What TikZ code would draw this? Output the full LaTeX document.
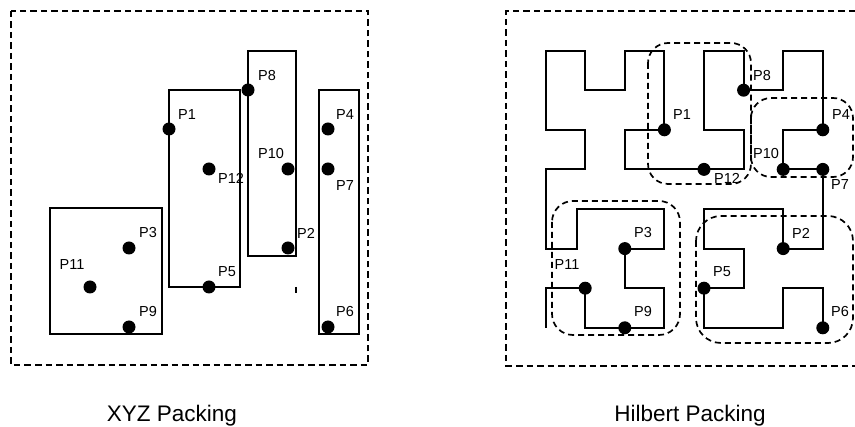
\documentclass[tikz,border=0pt]{standalone}
\usepackage{fontspec}
\setmainfont{Liberation Sans}
\begin{document}
\begin{tikzpicture}[x=1pt,y=-1pt,
  frame/.style={dashed,line width=1.8pt,dash pattern=on 6.5pt off 4pt},
  cluster/.style={dashed,line width=1.7pt,dash pattern=on 6pt off 4pt},
  solid box/.style={draw,line width=1.9pt},
  curve/.style={line width=1.9pt,line join=miter},
  dot/.style={circle,fill=black,inner sep=0pt,minimum size=13pt},
  lab/.style={font=\fontsize{14.5}{14.5}\selectfont,inner sep=0pt},
  captext/.style={font=\fontsize{22.5}{22.5}\selectfont,inner sep=0pt,anchor=base}]
\useasboundingbox (0,0) rectangle (855,427);
% ---------------- left panel: XYZ packing ----------------
\draw[frame] (11,11) rectangle (368,365);
\draw[solid box] (169,90) rectangle (240,287);
\draw[solid box] (248,51) rectangle (296,256);
\draw[solid box] (319,90) rectangle (359,334);
\draw[solid box] (50,208) rectangle (162,334);
\draw[line width=1.7pt] (296,287) -- (296,293);
\node[dot] (lp1) at (169,129) {};
\node[dot] (lp8) at (248,90) {};
\node[dot] (lp4) at (328,129) {};
\node[dot] (lp10) at (288,169) {};
\node[dot] (lp12) at (209,169) {};
\node[dot] (lp7) at (328,169) {};
\node[dot] (lp3) at (129,248) {};
\node[dot] (lp2) at (288,248) {};
\node[dot] (lp11) at (90,287) {};
\node[dot] (lp5) at (209,287) {};
\node[dot] (lp9) at (129,327) {};
\node[dot] (lp6) at (328,327) {};
\node[lab] (ll1) at (187,115) {P1};
\node[lab] (ll8) at (267,76) {P8};
\node[lab] (ll4) at (345,115) {P4};
\node[lab] (ll10) at (271,154) {P10};
\node[lab] (ll12) at (231,178) {P12};
\node[lab] (ll7) at (345,186) {P7};
\node[lab] (ll3) at (148,233) {P3};
\node[lab] (ll2) at (306,233) {P2};
\node[lab] (ll11) at (72,265) {P11};
\node[lab] (ll5) at (227,272) {P5};
\node[lab] (ll9) at (148,312) {P9};
\node[lab] (ll6) at (345,312) {P6};
\node[captext] (capl) at (172,422) {XYZ Packing};
% ---------------- right panel: Hilbert packing ----------------
\draw[frame] (855,11) -- (506,11) -- (506,366) -- (855,366);
\draw[curve]
  (545.6,327.8) -- (545.6,288.2) -- (585.2,288.2) -- (585.2,327.8) -- (664.4,327.8)
  -- (664.4,288.2) -- (624.8,288.2) -- (624.8,248.6) -- (664.4,248.6) -- (664.4,209)
  -- (577,209) -- (577,248.6) -- (545.6,248.6) -- (545.6,169.4) -- (585.2,169.4)
  -- (585.2,129.8) -- (545.6,129.8) -- (545.6,50.6) -- (585.2,50.6) -- (585.2,90.2)
  -- (624.8,90.2) -- (624.8,50.6) -- (664.4,50.6) -- (664.4,129.8) -- (624.8,129.8)
  -- (624.8,169.4) -- (743.6,169.4) -- (743.6,129.8) -- (704,129.8) -- (704,50.6)
  -- (743.6,50.6) -- (743.6,90.2) -- (783.2,90.2) -- (783.2,50.6) -- (822.8,50.6)
  -- (822.8,129.8) -- (783.2,129.8) -- (783.2,169.4) -- (822.8,169.4) -- (822.8,248.6)
  -- (783.2,248.6) -- (783.2,209) -- (704,209) -- (704,248.6) -- (743.6,248.6)
  -- (743.6,288.2) -- (704,288.2) -- (704,327.8) -- (783.2,327.8) -- (783.2,288.2)
  -- (822.8,288.2) -- (822.8,327.8);
\draw[cluster,rounded corners=20pt] (648,43) rectangle (751,184);
\draw[cluster,rounded corners=20pt] (751,98) rectangle (853,177);
\draw[cluster,rounded corners=21pt] (552,201) rectangle (680,335);
\draw[cluster,rounded corners=25pt] (696,216) rectangle (853,343);
\node[dot] (rp1) at (664.4,129.8) {};
\node[dot] (rp8) at (743.6,90.2) {};
\node[dot] (rp4) at (822.8,129.8) {};
\node[dot] (rp10) at (783.2,169.4) {};
\node[dot] (rp12) at (704,169.4) {};
\node[dot] (rp7) at (822.8,169.4) {};
\node[dot] (rp3) at (624.8,248.6) {};
\node[dot] (rp2) at (783.2,248.6) {};
\node[dot] (rp11) at (585.2,288.2) {};
\node[dot] (rp5) at (704,288.2) {};
\node[dot] (rp9) at (624.8,327.8) {};
\node[dot] (rp6) at (822.8,327.8) {};
\node[lab] (rl1) at (682,115) {P1};
\node[lab] (rl8) at (762,76) {P8};
\node[lab] (rl4) at (841,115) {P4};
\node[lab] (rl10) at (766,154) {P10};
\node[lab] (rl12) at (727,178) {P12};
\node[lab] (rl7) at (840,185) {P7};
\node[lab] (rl3) at (643,233) {P3};
\node[lab] (rl2) at (801,233) {P2};
\node[lab] (rl11) at (567,265) {P11};
\node[lab] (rl5) at (722,272) {P5};
\node[lab] (rl9) at (643,312) {P9};
\node[lab] (rl6) at (840,312) {P6};
\node[captext] (capr) at (690,422) {Hilbert Packing};
\end{tikzpicture}
\end{document}
